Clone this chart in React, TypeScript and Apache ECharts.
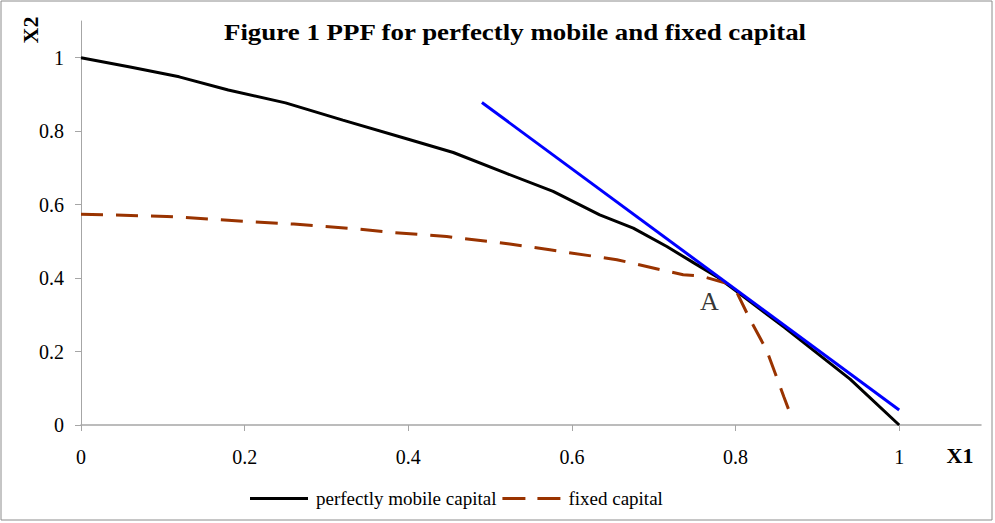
import React, { useEffect, useRef } from "react";
import * as echarts from "echarts";

const mobileCapital: number[][] = [
  [0, 1.0], [0.06, 0.975], [0.12, 0.948], [0.18, 0.912], [0.25, 0.877], [0.32, 0.83],
  [0.4, 0.778], [0.455, 0.742], [0.52, 0.685], [0.577, 0.636], [0.634, 0.572],
  [0.675, 0.536], [0.716, 0.486], [0.75, 0.44], [0.777, 0.404], [0.802, 0.363],
  [0.86, 0.265], [0.94, 0.125], [1.0, 0.0],
];
const fixedCapital: number[][] = [
  [0, 0.574], [0.105, 0.568], [0.203, 0.554], [0.26, 0.547], [0.341, 0.533],
  [0.382, 0.524], [0.447, 0.513], [0.524, 0.493], [0.573, 0.477], [0.655, 0.45],
  [0.736, 0.409], [0.757, 0.406], [0.789, 0.386], [0.802, 0.359], [0.818, 0.286],
  [0.838, 0.204], [0.859, 0.077], [0.869, 0.018],
];
const tangentLine: number[][] = [[0.49, 0.878], [1.0, 0.041]];
const pointA: number[][] = [[0.768, 0.3]];
const tickValues = [0, 0.2, 0.4, 0.6, 0.8, 1];

const FONT = "'Liberation Serif', 'Times New Roman', serif";

export default function App() {
  const ref = useRef<HTMLDivElement>(null);
  useEffect(() => {
    if (!ref.current) return;
    const chart = echarts.init(ref.current, null, { renderer: "svg" });
    const fmt = (v: number) => (v > 1.0001 ? "" : String(Math.round(v * 10) / 10));
    chart.setOption({
      animation: false,
      backgroundColor: "#ffffff",
      textStyle: { fontFamily: FONT },
      grid: { left: 81, right: 14, top: 21, bottom: 98, containLabel: false },
      xAxis: {
        type: "value",
        min: 0,
        max: 1.1,
        interval: 0.2,
        axisLine: { show: true, lineStyle: { color: "#a6a6a6", width: 1.5 } },
        axisTick: { show: true, length: 6, lineStyle: { color: "#a6a6a6" }, customValues: tickValues },
        axisLabel: { color: "#000", fontSize: 20, fontFamily: FONT, margin: 22, formatter: fmt, customValues: tickValues },
        splitLine: { show: false },
      },
      yAxis: {
        type: "value",
        min: 0,
        max: 1.1,
        interval: 0.2,
        axisLine: { show: true, lineStyle: { color: "#a6a6a6", width: 1 } },
        axisTick: { show: true, length: 6, lineStyle: { color: "#a6a6a6" }, customValues: tickValues },
        axisLabel: { color: "#000", fontSize: 20, fontFamily: FONT, margin: 17, formatter: fmt, customValues: tickValues },
        splitLine: { show: false },
      },
      legend: {
        left: 245,
        top: 484,
        itemWidth: 58,
        itemHeight: 14,
        itemGap: 6,
        data: [
          { name: "perfectly mobile capital", icon: "path://M0,0h58v3h-58z" },
          { name: "fixed capital", icon: "path://M0,0h23v3h-23z M35,0h23v3h-23z" },
        ],
        textStyle: { fontFamily: FONT, fontSize: 19, color: "#000", padding: [0, 0, 0, 3] },
      },
      series: [
        {
          name: "perfectly mobile capital",
          type: "line",
          data: mobileCapital,
          showSymbol: false,
          symbol: "none",
          lineStyle: { color: "#000000", width: 3 },
          itemStyle: { color: "#000000" },
        },
        {
          name: "fixed capital",
          type: "line",
          data: fixedCapital,
          showSymbol: false,
          symbol: "none",
          lineStyle: { color: "#993300", width: 3, type: [22, 13] },
          itemStyle: { color: "#993300" },
        },
        {
          name: "tangent",
          type: "line",
          data: tangentLine,
          showSymbol: false,
          symbol: "none",
          lineStyle: { color: "#0000ff", width: 3 },
          itemStyle: { color: "#0000ff" },
        },
        {
          name: "A",
          type: "scatter",
          data: pointA,
          symbolSize: 0,
          silent: true,
          label: {
            show: true,
            position: "top",
            distance: 0,
            formatter: "A",
            fontFamily: FONT,
            fontSize: 26,
            color: "#000",
            textBorderWidth: 0,
          },
        },
      ],
      graphic: [
        {
          type: "rect",
          shape: { x: 1, y: 1, width: 991, height: 519 },
          style: { fill: "none", stroke: "#8c8c8c", lineWidth: 1 },
          silent: true,
        },
        {
          type: "text",
          x: 515,
          y: 32,
          scaleX: 1.17,
          style: {
            text: "Figure 1 PPF for perfectly mobile and fixed capital",
            fontFamily: FONT,
            fontSize: 23,
            fontWeight: "bold",
            fill: "#000",
            textAlign: "center",
            textVerticalAlign: "middle",
          },
        },
        {
          type: "text",
          x: 960,
          y: 455,
          style: {
            text: "X1",
            fontFamily: FONT,
            fontSize: 22,
            fontWeight: "bold",
            fill: "#000",
            textAlign: "center",
            textVerticalAlign: "middle",
          },
        },
        {
          type: "text",
          x: 30,
          y: 30,
          rotation: Math.PI / 2,
          style: {
            text: "X2",
            fontFamily: FONT,
            fontSize: 22,
            fontWeight: "bold",
            fill: "#000",
            textAlign: "center",
            textVerticalAlign: "middle",
          },
        },
      ],
    });
    return () => chart.dispose();
  }, []);
  return (
    <div
      ref={ref}
      style={{ position: "fixed", left: 0, top: 0, width: 995, height: 523, background: "#fff" }}
    />
  );
}
